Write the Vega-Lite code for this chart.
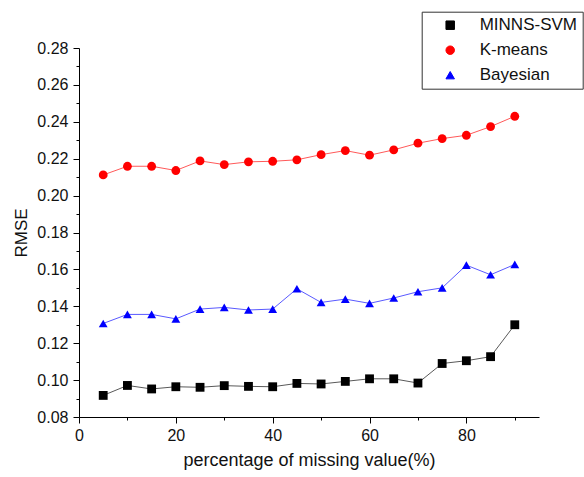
{
  "$schema": "https://vega.github.io/schema/vega-lite/v6.json",
  "width": 460,
  "height": 369,
  "autosize": {"type": "none"},
  "padding": {"left": 79, "top": 48, "right": 45, "bottom": 60},
  "background": "white",
  "config": {"view": {"stroke": null}, "font": "Liberation Sans"},
  "data": {"values": [
    {"x": 5, "method": "MINNS-SVM", "rmse": 0.0917},
    {"x": 10, "method": "MINNS-SVM", "rmse": 0.0971},
    {"x": 15, "method": "MINNS-SVM", "rmse": 0.0952},
    {"x": 20, "method": "MINNS-SVM", "rmse": 0.0964},
    {"x": 25, "method": "MINNS-SVM", "rmse": 0.0961},
    {"x": 30, "method": "MINNS-SVM", "rmse": 0.0970},
    {"x": 35, "method": "MINNS-SVM", "rmse": 0.0966},
    {"x": 40, "method": "MINNS-SVM", "rmse": 0.0964},
    {"x": 45, "method": "MINNS-SVM", "rmse": 0.0982},
    {"x": 50, "method": "MINNS-SVM", "rmse": 0.0979},
    {"x": 55, "method": "MINNS-SVM", "rmse": 0.0993},
    {"x": 60, "method": "MINNS-SVM", "rmse": 0.1007},
    {"x": 65, "method": "MINNS-SVM", "rmse": 0.1007},
    {"x": 70, "method": "MINNS-SVM", "rmse": 0.0984},
    {"x": 75, "method": "MINNS-SVM", "rmse": 0.1090},
    {"x": 80, "method": "MINNS-SVM", "rmse": 0.1105},
    {"x": 85, "method": "MINNS-SVM", "rmse": 0.1127},
    {"x": 90, "method": "MINNS-SVM", "rmse": 0.1300},
    {"x": 5, "method": "K-means", "rmse": 0.2112},
    {"x": 10, "method": "K-means", "rmse": 0.2159},
    {"x": 15, "method": "K-means", "rmse": 0.2159},
    {"x": 20, "method": "K-means", "rmse": 0.2136},
    {"x": 25, "method": "K-means", "rmse": 0.2188},
    {"x": 30, "method": "K-means", "rmse": 0.2168},
    {"x": 35, "method": "K-means", "rmse": 0.2183},
    {"x": 40, "method": "K-means", "rmse": 0.2186},
    {"x": 45, "method": "K-means", "rmse": 0.2194},
    {"x": 50, "method": "K-means", "rmse": 0.2222},
    {"x": 55, "method": "K-means", "rmse": 0.2244},
    {"x": 60, "method": "K-means", "rmse": 0.2219},
    {"x": 65, "method": "K-means", "rmse": 0.2248},
    {"x": 70, "method": "K-means", "rmse": 0.2284},
    {"x": 75, "method": "K-means", "rmse": 0.2309},
    {"x": 80, "method": "K-means", "rmse": 0.2327},
    {"x": 85, "method": "K-means", "rmse": 0.2374},
    {"x": 90, "method": "K-means", "rmse": 0.2430},
    {"x": 5, "method": "Bayesian", "rmse": 0.1307},
    {"x": 10, "method": "Bayesian", "rmse": 0.1356},
    {"x": 15, "method": "Bayesian", "rmse": 0.1356},
    {"x": 20, "method": "Bayesian", "rmse": 0.1332},
    {"x": 25, "method": "Bayesian", "rmse": 0.1385},
    {"x": 30, "method": "Bayesian", "rmse": 0.1394},
    {"x": 35, "method": "Bayesian", "rmse": 0.1380},
    {"x": 40, "method": "Bayesian", "rmse": 0.1385},
    {"x": 45, "method": "Bayesian", "rmse": 0.1495},
    {"x": 50, "method": "Bayesian", "rmse": 0.1421},
    {"x": 55, "method": "Bayesian", "rmse": 0.1439},
    {"x": 60, "method": "Bayesian", "rmse": 0.1416},
    {"x": 65, "method": "Bayesian", "rmse": 0.1445},
    {"x": 70, "method": "Bayesian", "rmse": 0.1479},
    {"x": 75, "method": "Bayesian", "rmse": 0.1500},
    {"x": 80, "method": "Bayesian", "rmse": 0.1623},
    {"x": 85, "method": "Bayesian", "rmse": 0.1571},
    {"x": 90, "method": "Bayesian", "rmse": 0.1627}
  ]},
  "encoding": {
    "x": {
      "field": "x", "type": "quantitative",
      "scale": {"domain": [0, 95], "nice": false, "zero": false},
      "axis": {
        "values": [0, 10, 20, 30, 40, 50, 60, 70, 80, 90],
        "labelExpr": "datum.value % 20 === 0 ? datum.label : ''",
        "grid": false,
        "domainColor": "#000",
        "tickColor": "#000",
        "tickSize": {"condition": {"test": "datum.value % 20 === 0", "value": 6}, "value": 3},
        "labelFontSize": 16,
        "labelColor": "#111",
        "labelPadding": 4,
        "labelFlush": false,
        "labelOverlap": false,
        "title": "percentage of missing value(%)",
        "titleFontSize": 18,
        "titleFontWeight": "normal",
        "titleColor": "#111",
        "titlePadding": 8
      }
    },
    "y": {
      "field": "rmse", "type": "quantitative",
      "scale": {"domain": [0.08, 0.28], "nice": false, "zero": false},
      "axis": {
        "values": [0.08, 0.09, 0.10, 0.11, 0.12, 0.13, 0.14, 0.15, 0.16, 0.17, 0.18, 0.19, 0.20, 0.21, 0.22, 0.23, 0.24, 0.25, 0.26, 0.27, 0.28],
        "format": ".2f",
        "labelExpr": "round(datum.value * 100) % 2 === 0 ? datum.label : ''",
        "grid": false,
        "domainColor": "#000",
        "tickColor": "#000",
        "tickSize": {"condition": {"test": "round(datum.value * 100) % 2 === 0", "value": 6}, "value": 3},
        "labelFontSize": 16,
        "labelColor": "#111",
        "labelPadding": 5,
        "labelFlush": false,
        "labelOverlap": false,
        "title": "RMSE",
        "titleFontSize": 17,
        "titleFontWeight": "normal",
        "titleColor": "#111",
        "titlePadding": 6
      }
    },
    "color": {
      "field": "method", "type": "nominal",
      "scale": {"domain": ["MINNS-SVM", "K-means", "Bayesian"], "range": ["#000000", "#ff0000", "#0000ff"]},
      "legend": {
        "title": null,
        "orient": "none",
        "legendX": 342.7,
        "legendY": -36.3,
        "strokeColor": "#333",
        "fillColor": "white",
        "padding": 5,
        "labelFontSize": 17,
        "labelColor": "#111",
        "labelFont": "Liberation Sans",
        "symbolOffset": 15,
        "labelOffset": 21,
        "rowPadding": 7,
        "symbolSize": 72,
        "symbolStrokeWidth": 1,
        "symbolOpacity": 1
      }
    }
  },
  "layer": [
    {"mark": {"type": "line", "strokeWidth": 1, "opacity": 0.65}},
    {
      "mark": {"type": "point", "filled": true, "opacity": 1, "size": 78},
      "encoding": {
        "shape": {
          "field": "method", "type": "nominal",
          "scale": {"domain": ["MINNS-SVM", "K-means", "Bayesian"], "range": ["square", "circle", "triangle-up"]}
        }
      }
    }
  ]
}
